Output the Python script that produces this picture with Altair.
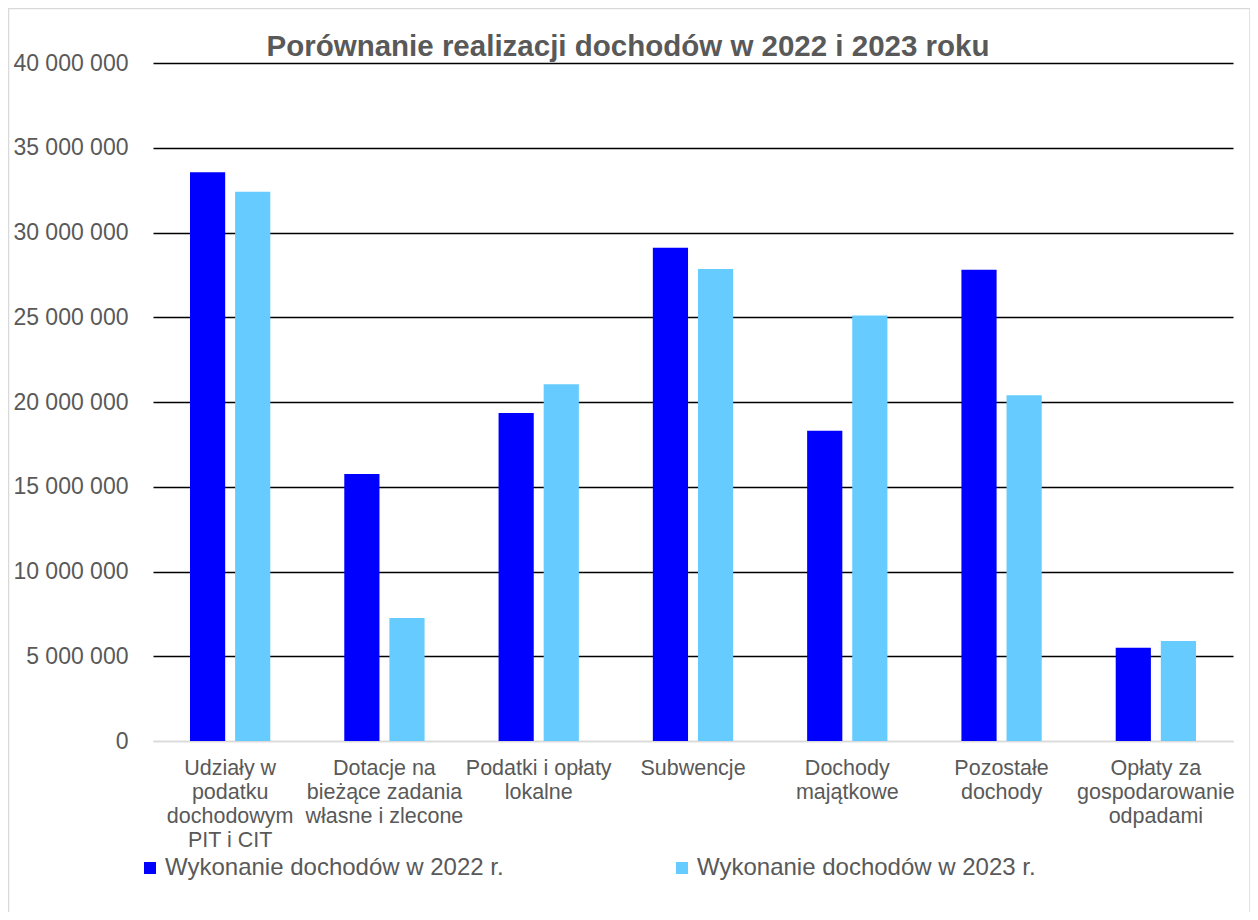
import altair as alt
import pandas as pd

categories = [
    "Udziały w\npodatku\ndochodowym\nPIT i CIT",
    "Dotacje na\nbieżące zadania\nwłasne i zlecone",
    "Podatki i opłaty\nlokalne",
    "Subwencje",
    "Dochody\nmajątkowe",
    "Pozostałe\ndochody",
    "Opłaty za\ngospodarowanie\nodpadami",
]
series = ["Wykonanie dochodów w 2022 r.", "Wykonanie dochodów w 2023 r."]
values_2022 = [33550000, 15750000, 19350000, 29100000, 18300000, 27800000, 5500000]
values_2023 = [32400000, 7250000, 21050000, 27850000, 25100000, 20400000, 5900000]
y_ticks = [0, 5000000, 10000000, 15000000, 20000000, 25000000, 30000000, 35000000, 40000000]
colors = ["#0000FF", "#66CCFF"]
title_text = "Porównanie realizacji dochodów w 2022 i 2023 roku"

rows = []
for c, a, b in zip(categories, values_2022, values_2023):
    rows.append({"kategoria": c, "seria": series[0], "wartosc": a})
    rows.append({"kategoria": c, "seria": series[1], "wartosc": b})
df = pd.DataFrame(rows)

FONT = "Liberation Sans"
GRAY = "#595959"

bars = alt.Chart(df).mark_bar().encode(
    x=alt.X(
        "kategoria:N",
        sort=categories,
        scale=alt.Scale(paddingInner=0, paddingOuter=0),
        axis=alt.Axis(
            title=None,
            labelAngle=0,
            labelExpr="split(datum.label, '\\n')",
            labelFont=FONT,
            labelFontSize=21.5,
            labelColor=GRAY,
            labelLineHeight=24,
            labelPadding=16,
            labelLimit=400,
            ticks=False,
            domainColor="#D9D9D9",
            domainWidth=1.5,
            grid=False,
            labelBaseline="top",
        ),
    ),
    xOffset=alt.XOffset(
        "seria:N",
        sort=series,
        scale=alt.Scale(paddingInner=0.22, paddingOuter=0.82),
    ),
    y=alt.Y(
        "wartosc:Q",
        scale=alt.Scale(domain=[0, 40000000], nice=False),
        axis=alt.Axis(
            title=None,
            values=y_ticks,
            labelExpr="datum.value == 0 ? '0' : format(datum.value / 1000000, 'd') + ' 000 000'",
            labelFont=FONT,
            labelFontSize=23,
            labelColor=GRAY,
            labelPadding=25,
            ticks=False,
            domain=False,
            grid=True,
            gridColor={"condition": {"test": "datum.value === 0", "value": "#D9D9D9"}, "value": "#000000"},
            gridWidth=1.5,
        ),
    ),
    color=alt.Color(
        "seria:N",
        sort=series,
        scale=alt.Scale(domain=series, range=colors),
        legend=alt.Legend(
            title=None,
            orient="none",
            direction="horizontal",
            legendX=-15,
            legendY=793,
            symbolType="square",
            symbolSize=144,
            symbolStrokeWidth=0,
            symbolOpacity=1,
            labelFont=FONT,
            labelFontSize=24,
            labelColor=GRAY,
            labelOffset=3,
            labelLimit=500,
            columnPadding=166,
        ),
    ),
)

single = pd.DataFrame({"f": [1]})
frame = alt.Chart(single).mark_rect(
    filled=False, stroke="#D9D9D9", strokeWidth=1.5, clip=False
).encode(
    x=alt.value(-144.5),
    x2=alt.value(1097),
    y=alt.value(-54.5),
    y2=alt.value(880),
)

title = alt.Chart(single).mark_text(
    text=title_text,
    font=FONT,
    fontSize=29.5,
    fontWeight="bold",
    color=GRAY,
    align="center",
    baseline="alphabetic",
).encode(
    x=alt.value(475),
    y=alt.value(-7),
)

chart = alt.layer(frame, bars, title).properties(
    width=1080,
    height=678,
    autosize=alt.AutoSizeParams(type="none"),
    padding={"left": 145, "top": 55, "right": 17, "bottom": 171},
).configure(background="white").configure_view(stroke=None)

chart.save("out.html", embed_options={"renderer": "svg", "actions": False})
